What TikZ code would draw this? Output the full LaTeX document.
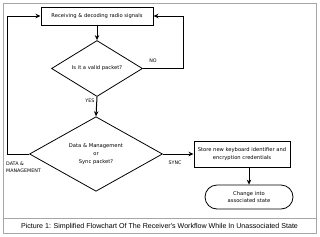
\documentclass[tikz,border=0pt]{standalone}
\usepackage{fontspec}
\setmainfont{DejaVu Sans}
\newfontfamily\capfont{Liberation Sans}
\usetikzlibrary{shapes.geometric,shapes.misc,arrows.meta}
\tikzset{
  flow/.style={draw=black, line width=1pt},
  arr/.style={flow, -{Stealth[length=5pt,width=4.5pt]}},
  procbox/.style={draw=black, line width=1pt, fill=white, align=center, font=\fontsize{5.2}{7.2}\selectfont, inner sep=0pt},
  decision/.style={draw=black, line width=0.8pt, diamond, inner sep=0pt, align=center, font=\fontsize{5.2}{7.8}\selectfont},
  term/.style={draw=black, line width=0.8pt, rounded rectangle, inner sep=0pt, align=center, font=\fontsize{5.2}{7.8}\selectfont},
  lbl/.style={font=\fontsize{4.8}{7.5}\selectfont, inner sep=0pt, align=left},
}
\begin{document}
\begin{tikzpicture}[x=1pt,y=-1pt]
\useasboundingbox (0,0) rectangle (320,236);
\node[draw=gray!70, line width=0.9pt, minimum width=313pt, minimum height=230pt, inner sep=0pt] (frame) at (159.5,118) {};
\coordinate (capl) at (3,218);
\coordinate (capr) at (316,218);
\draw[gray!70, line width=0.9pt] (capl) -- (capr);
\node[font=\capfont\fontsize{7.1}{8}\selectfont, inner sep=0pt] (cap) at (159.5,226.5) {Picture 1: Simplified Flowchart Of The Receiver's Workflow While In Unassociated State};

\node[procbox, minimum width=112pt, minimum height=18pt] (recv) at (97,16) {Receiving \& decoding radio signals};
\node[decision, minimum width=91pt, minimum height=56pt] (valid) at (97,68.5) {Is it a valid packet?};
\node[decision, minimum width=133pt, minimum height=69pt] (kind) at (96,154) {Data \& Management\\or\\Sync packet?};
\node[procbox, minimum width=96pt, minimum height=26pt] (store) at (242,154) {Store new keyboard identifier and\\encryption credentials};
\node[term, minimum width=88pt, minimum height=24pt] (assoc) at (249,197) {Change into\\associated state};

\coordinate (noR) at (183,68.5);
\coordinate (dmL) at (7,154);

\draw[arr] (recv.south) -- (valid.north);
\draw[arr] (valid.south) -- (kind.north);
\draw[arr] (valid.east) -- (noR) |- (recv.east);
\draw[arr] (kind.west) -- (dmL) |- (recv.west);
\draw[arr] (kind.east) -- (store.west);
\draw[arr] (assoc.north |- store.south) -- (assoc.north);

\node[lbl] (yes) at (90,101) {YES};
\node[lbl] (no) at (153,61) {NO};
\node[lbl] (sync) at (175,163) {SYNC};
\node[lbl, anchor=west] (dm) at (6,167) {DATA \&\\MANAGEMENT};
\end{tikzpicture}
\end{document}
